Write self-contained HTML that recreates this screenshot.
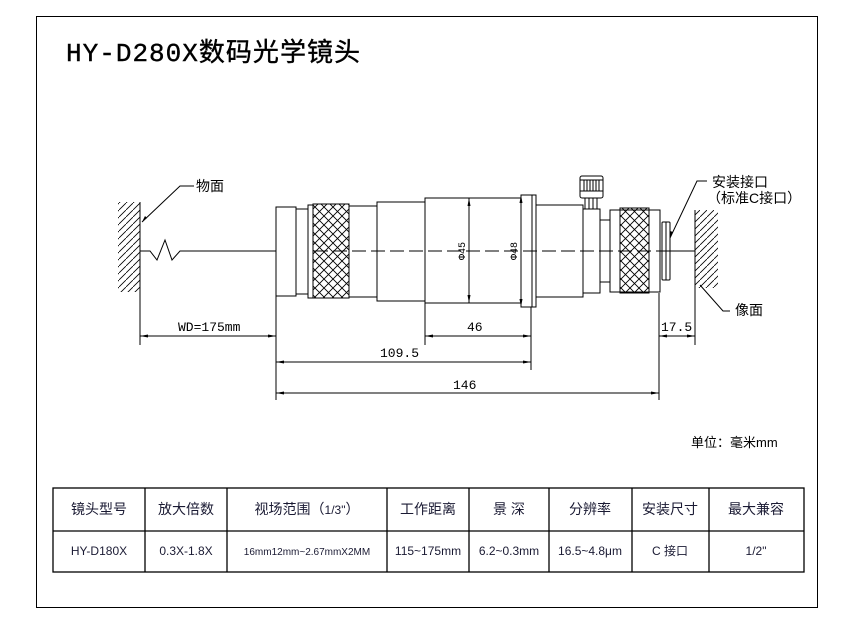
<!DOCTYPE html>
<html><head><meta charset="utf-8"><style>
body{margin:0;background:#fff;}
svg{display:block;}
</style></head><body>
<svg width="850" height="638" viewBox="0 0 850 638" xmlns="http://www.w3.org/2000/svg" font-family="Liberation Sans, Noto Sans CJK SC, sans-serif">
<defs>
<pattern id="kn" width="9" height="9" patternUnits="userSpaceOnUse">
<path d="M0 0L9 9M9 0L0 9" stroke="#000" stroke-width="0.9"/>
</pattern>
<pattern id="ht" width="7" height="7" patternUnits="userSpaceOnUse">
<path d="M7 0L0 7" stroke="#000" stroke-width="0.8"/>
</pattern>
</defs>
<rect x="36.5" y="16.5" width="781" height="591" fill="none" stroke="#000"/>
<text x="66" y="61" font-family="Liberation Mono, Noto Sans CJK SC, monospace" font-size="26" fill="#000" stroke="#000" stroke-width="0.4" textLength="294" lengthAdjust="spacing">HY-D280X数码光学镜头</text>

<g stroke="#000" stroke-width="1" fill="none">
<rect x="118" y="202" width="22" height="90" fill="url(#ht)" stroke="none"/>
<line x1="140" y1="202" x2="140" y2="345"/>
<rect x="695" y="210" width="23" height="78" fill="url(#ht)" stroke="none"/>
<line x1="695" y1="210" x2="695" y2="345"/>
<polyline points="140,251 150,251 157,260 165,240 172,260 180,251 276,251"/>
<line x1="276" y1="251" x2="670" y2="251" stroke-dasharray="14,5"/>
<line x1="670" y1="251" x2="695" y2="251"/>
<rect x="276" y="207" width="20" height="89" fill="#fff"/>
<rect x="296" y="209" width="12" height="85" fill="#fff"/>
<rect x="308" y="205" width="5" height="93" fill="#fff"/>
<rect x="313" y="204" width="36" height="94" fill="url(#kn)"/>
<rect x="349" y="206" width="28" height="91"/>
<rect x="377" y="202" width="48" height="99"/>
<rect x="425" y="198" width="96" height="105"/>
<rect x="521" y="195" width="15" height="112"/>
<line x1="532" y1="195" x2="532" y2="307"/>
<rect x="536" y="205" width="47" height="92"/>
<rect x="583" y="209" width="17" height="84"/>
<rect x="585" y="198" width="12" height="11"/>
<line x1="589" y1="198" x2="589" y2="209"/><line x1="593" y1="198" x2="593" y2="209"/>
<rect x="580" y="176" width="23" height="22" rx="2"/>
<line x1="584" y1="180" x2="584" y2="191"/><line x1="587" y1="180" x2="587" y2="191"/><line x1="590" y1="180" x2="590" y2="191"/><line x1="593" y1="180" x2="593" y2="191"/><line x1="596" y1="180" x2="596" y2="191"/><line x1="599" y1="180" x2="599" y2="191"/>
<line x1="580" y1="180" x2="603" y2="180"/><line x1="580" y1="191" x2="603" y2="191"/>
<rect x="600" y="220" width="10" height="62"/>
<rect x="610" y="210" width="50" height="82"/>
<rect x="620" y="208" width="29" height="85" fill="url(#kn)"/>
<rect x="662" y="222" width="8" height="58" rx="1"/>
<line x1="666" y1="222" x2="666" y2="280"/>
<line x1="469" y1="198" x2="469" y2="303"/>
<line x1="521" y1="195" x2="521" y2="307"/>
<line x1="276" y1="296" x2="276" y2="400"/>
<line x1="425" y1="303" x2="425" y2="345"/>
<line x1="531" y1="307" x2="531" y2="370"/>
<line x1="659" y1="293" x2="659" y2="400"/>
<line x1="140" y1="336" x2="276" y2="336"/>
<line x1="425" y1="336" x2="531" y2="336"/>
<line x1="659" y1="336" x2="695" y2="336"/>
<line x1="276" y1="362" x2="531" y2="362"/>
<line x1="276" y1="393" x2="659" y2="393"/>
<polyline points="142,222 180,186 194,186"/>
<polyline points="670,238 697,181 707,181"/>
<polyline points="700,285 723,311 730,311"/>
</g>
<g fill="#000">
<path d="M140 336l8 -1.5v3z"/><path d="M276 336l-8 -1.5v3z"/>
<path d="M425 336l8 -1.5v3z"/><path d="M531 336l-8 -1.5v3z"/>
<path d="M659 336l8 -1.5v3z"/><path d="M695 336l-8 -1.5v3z"/>
<path d="M276 362l8 -1.5v3z"/><path d="M531 362l-8 -1.5v3z"/>
<path d="M276 393l8 -1.5v3z"/><path d="M659 393l-8 -1.5v3z"/>
<path d="M469 198l-1.5 8h3z"/><path d="M469 303l-1.5 -8h3z"/>
<path d="M521 195l-1.5 8h3z"/><path d="M521 307l-1.5 -8h3z"/>
<path d="M142 222l3 -6l2 2z"/><path d="M670 238l0 -7l3 1z"/>
</g>
<g font-family="Liberation Mono, monospace" font-size="13" fill="#000">
<text x="178" y="331">WD=175mm</text>
<text x="467" y="331">46</text>
<text x="661" y="331">17.5</text>
<text x="380" y="357">109.5</text>
<text x="453" y="389">146</text>
<text transform="translate(465,251) rotate(-90)" text-anchor="middle" font-size="10">Φ45</text>
<text transform="translate(517,251) rotate(-90)" text-anchor="middle" font-size="10">Φ48</text>
</g>
<g font-size="14" fill="#000">
<text x="196" y="191">物面</text>
<text x="712" y="187">安装接口</text>
<text x="707" y="203">（标准C接口）</text>
<text x="735" y="315">像面</text>
<text x="691" y="447" font-size="13">单位：毫米mm</text>
</g>
<g stroke="#000" stroke-width="1.3" fill="none">
<rect x="53" y="488" width="751" height="84"/>
<line x1="53" y1="531" x2="804" y2="531"/>
<line x1="145" y1="488" x2="145" y2="572"/><line x1="227" y1="488" x2="227" y2="572"/>
<line x1="387" y1="488" x2="387" y2="572"/><line x1="469" y1="488" x2="469" y2="572"/>
<line x1="549" y1="488" x2="549" y2="572"/><line x1="632" y1="488" x2="632" y2="572"/>
<line x1="709" y1="488" x2="709" y2="572"/>
</g>
<g font-size="14" fill="#1a1a33" text-anchor="middle">
<text x="99" y="514">镜头型号</text><text x="186" y="514">放大倍数</text>
<text x="307" y="514">视场范围（<tspan font-size="12">1/3"</tspan>）</text><text x="428" y="514">工作距离</text>
<text x="509" y="514">景 深</text><text x="590" y="514">分辨率</text>
<text x="670" y="514">安装尺寸</text><text x="756" y="514">最大兼容</text>
</g>
<g font-size="12" fill="#1a1a33" text-anchor="middle">
<text x="99" y="555">HY-D180X</text><text x="186" y="555">0.3X-1.8X</text>
<text x="307" y="555" font-size="10">16mm12mm~2.67mmX2MM</text><text x="428" y="555">115~175mm</text>
<text x="509" y="555">6.2~0.3mm</text><text x="590" y="555">16.5~4.8μm</text>
<text x="670" y="555">C 接口</text><text x="756" y="555">1/2"</text>
</g>
</svg>
</body></html>
